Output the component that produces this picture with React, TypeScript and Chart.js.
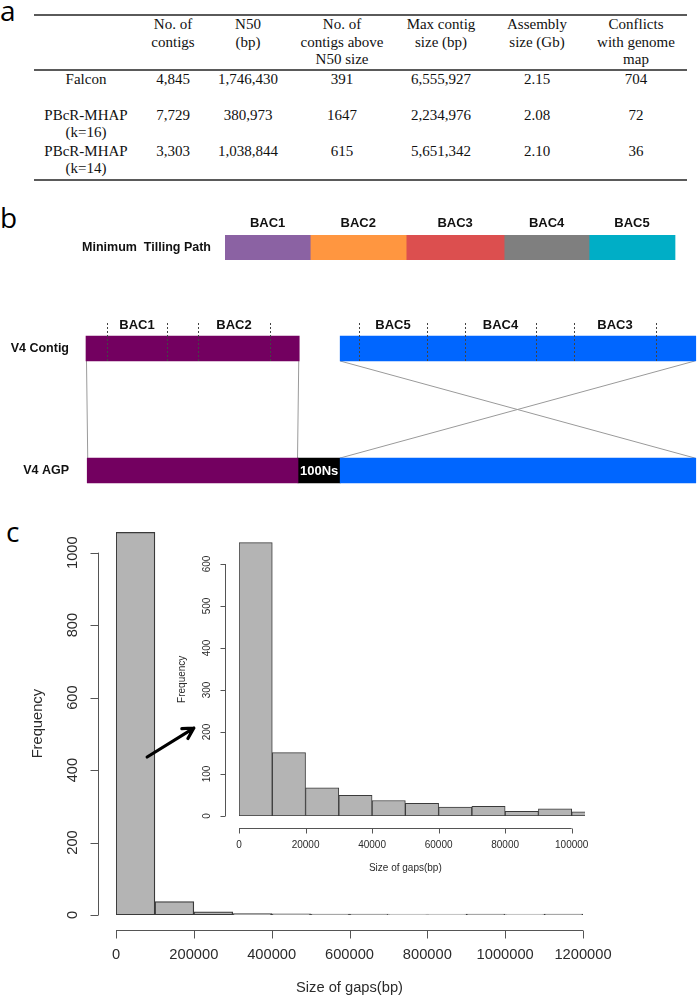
import React, { useEffect, useRef } from 'react';
import { Chart, registerables } from 'chart.js';

Chart.register(...registerables);

// ---------------- Panel a : assembly table ----------------
const tableHeaders = [
  ['No. of', 'contigs'],
  ['N50', '(bp)'],
  ['No. of', 'contigs above', 'N50 size'],
  ['Max contig', 'size (bp)'],
  ['Assembly', 'size (Gb)'],
  ['Conflicts', 'with genome', 'map'],
];
const assemblers = [['Falcon'], ['PBcR-MHAP', '(k=16)'], ['PBcR-MHAP', '(k=14)']];
const numContigs = ['4,845', '7,729', '3,303'];
const n50 = ['1,746,430', '380,973', '1,038,844'];
const contigsAboveN50 = ['391', '1647', '615'];
const maxContigSize = ['6,555,927', '2,234,976', '5,651,342'];
const assemblySize = ['2.15', '2.08', '2.10'];
const conflicts = ['704', '72', '36'];

// ---------------- Panel b : tiling path diagram ----------------
const mtpLabel = 'Minimum  Tilling Path';
const mtpBacs = ['BAC1', 'BAC2', 'BAC3', 'BAC4', 'BAC5'];
const mtpEdges = [22.7, 36.66, 52.37, 68.41, 82.32, 96.4];
const mtpColors = ['#8b62a3', '#ff9640', '#dc4f4f', '#7f7f7f', '#00aec6'];

const rowLabelsB = ['V4 Contig', 'V4 AGP'];
const contigPurpleSpan = [0, 34.9];
const contigBlueSpan = [41.6, 99.8];
const agpPurpleSpan = [0.2, 34.7];
const agpGapSpan = [34.7, 41.6];
const agpBlueSpan = [41.6, 99.8];
const gapLabel = '100Ns';
const contigBacs = ['BAC1', 'BAC2', 'BAC5', 'BAC4', 'BAC3'];
const contigBacStarts = [3.44, 18.33, 44.68, 62.03, 79.87];
const contigBacEnds = [13.26, 30.11, 55.81, 73.65, 93.29];

// ---------------- Panel c : gap size histograms ----------------
const gapBinWidth = 100000;
const gapCounts = [1056, 37, 9, 4, 3, 2, 1, 0, 0, 1, 0, 1];
const gapXTicks = [0, 200000, 400000, 600000, 800000, 1000000, 1200000];
const gapYTicks = [0, 200, 400, 600, 800, 1000];

const insetBinWidth = 10000;
const insetCounts = [651, 151, 67, 49, 37, 30, 21, 23, 11, 17, 10];
const insetXTicks = [0, 20000, 40000, 60000, 80000, 100000];
const insetYTicks = [0, 100, 200, 300, 400, 500, 600];

const arrowFrom = [80000, 436];
const arrowTo = [200000, 516];

const SANS = '"Liberation Sans", Arial, sans-serif';

type AxesOpts = {
  xTicks: number[]; yTicks: number[]; xRange: number[];
  yAxisGap: number; yTickLen: number; yLabelGap: number; yTitleGap: number;
  xAxisGap: number; xTickLen: number; xLabelGap: number; xTitleGap: number;
  font: number; xTitle: string; yTitle: string; yCenterValue: number;
};

function rAxesPlugin(o: AxesOpts) {
  return {
    id: 'rAxes',
    afterDraw(chart: any) {
      const { ctx, chartArea, scales } = chart;
      const xs = scales.x, ys = scales.y;
      const y0 = ys.getPixelForValue(0);
      const ax = Math.round(chartArea.left - o.yAxisGap) + 0.5;
      ctx.save();
      ctx.strokeStyle = '#555';
      ctx.lineWidth = 1;
      ctx.fillStyle = '#2b2b2b';
      ctx.font = `${o.font}px ${SANS}`;
      ctx.beginPath();
      ctx.moveTo(ax, ys.getPixelForValue(o.yTicks[0]));
      ctx.lineTo(ax, ys.getPixelForValue(o.yTicks[o.yTicks.length - 1]));
      o.yTicks.forEach((v) => {
        const py = Math.round(ys.getPixelForValue(v)) + 0.5;
        ctx.moveTo(ax, py);
        ctx.lineTo(ax - o.yTickLen, py);
      });
      ctx.stroke();
      ctx.textAlign = 'center';
      ctx.textBaseline = 'middle';
      o.yTicks.forEach((v) => {
        ctx.save();
        ctx.translate(ax - o.yLabelGap, ys.getPixelForValue(v));
        ctx.rotate(-Math.PI / 2);
        ctx.fillText(String(v), 0, 0);
        ctx.restore();
      });
      const ay = Math.round(y0 + o.xAxisGap) + 0.5;
      ctx.beginPath();
      ctx.moveTo(xs.getPixelForValue(o.xTicks[0]), ay);
      ctx.lineTo(xs.getPixelForValue(o.xTicks[o.xTicks.length - 1]), ay);
      o.xTicks.forEach((v) => {
        const px = Math.round(xs.getPixelForValue(v)) + 0.5;
        ctx.moveTo(px, ay);
        ctx.lineTo(px, ay + o.xTickLen);
      });
      ctx.stroke();
      o.xTicks.forEach((v) => {
        ctx.fillText(String(v), xs.getPixelForValue(v), y0 + o.xLabelGap);
      });
      const xc = (xs.getPixelForValue(o.xRange[0]) + xs.getPixelForValue(o.xRange[1])) / 2;
      ctx.fillText(o.xTitle, xc, y0 + o.xTitleGap);
      ctx.save();
      ctx.translate(ax - o.yTitleGap, ys.getPixelForValue(o.yCenterValue));
      ctx.rotate(-Math.PI / 2);
      ctx.fillText(o.yTitle, 0, 0);
      ctx.restore();
      ctx.restore();
    },
  };
}

const arrowPlugin = {
  id: 'arrow',
  afterDraw(chart: any) {
    const { ctx, scales } = chart;
    const x1 = scales.x.getPixelForValue(arrowFrom[0]);
    const y1 = scales.y.getPixelForValue(arrowFrom[1]);
    const x2 = scales.x.getPixelForValue(arrowTo[0]);
    const y2 = scales.y.getPixelForValue(arrowTo[1]);
    const ang = Math.atan2(y2 - y1, x2 - x1);
    const head = 12;
    ctx.save();
    ctx.strokeStyle = '#000';
    ctx.lineWidth = 3.2;
    ctx.lineCap = 'round';
    ctx.lineJoin = 'round';
    ctx.beginPath();
    ctx.moveTo(x1, y1);
    ctx.lineTo(x2, y2);
    ctx.moveTo(x2 - head * Math.cos(ang - 0.5), y2 - head * Math.sin(ang - 0.5));
    ctx.lineTo(x2, y2);
    ctx.lineTo(x2 - head * Math.cos(ang + 0.5), y2 - head * Math.sin(ang + 0.5));
    ctx.stroke();
    ctx.restore();
  },
};

function histConfig(counts: number[], binWidth: number, xMax: number, yMax: number, padding: any, stepSize: number, border: number, plugins: any[]) {
  return {
    type: 'bar',
    data: {
      datasets: [
        {
          data: counts.map((c, i) => ({ x: (i + 0.5) * binWidth, y: c })),
          backgroundColor: '#b4b4b4',
          borderColor: (c: any) => (c.raw && c.raw.y === 0 ? '#b0b0b0' : '#3a3a3a'),
          borderWidth: border,
          borderSkipped: false,
          minBarLength: 1,
          barPercentage: 1,
          categoryPercentage: 1,
        },
      ],
    },
    options: {
      responsive: false,
      animation: false,
      events: [],
      layout: { padding },
      plugins: { legend: { display: false }, tooltip: { enabled: false } },
      scales: {
        x: { type: 'linear', display: false, offset: false, min: 0, max: xMax, grid: { offset: false }, ticks: { stepSize, includeBounds: false } },
        y: { type: 'linear', display: false, min: 0, max: yMax },
      },
    },
    plugins,
  };
}

function rowLabelsPlugin(gap: number) {
  return {
    id: 'rowLabels',
    afterDraw(chart: any) {
      const { ctx, chartArea, scales } = chart;
      ctx.save();
      ctx.fillStyle = '#111';
      ctx.font = `bold 12.5px ${SANS}`;
      ctx.textAlign = 'right';
      ctx.textBaseline = 'middle';
      chart.data.labels.forEach((l: string, i: number) => {
        ctx.fillText(l, chartArea.left - gap, scales.y.getPixelForValue(i) + 0.5);
      });
      ctx.restore();
    },
  };
}

const mtpLabelsPlugin = {
  id: 'mtpLabels',
  afterDatasetsDraw(chart: any) {
    const { ctx } = chart;
    ctx.save();
    ctx.fillStyle = '#111';
    ctx.font = `bold 13px ${SANS}`;
    ctx.textAlign = 'center';
    ctx.textBaseline = 'middle';
    mtpBacs.forEach((b, i) => {
      const el = chart.getDatasetMeta(i).data[0];
      const cx = (el.x + el.base) / 2;
      ctx.fillText(b, cx, el.y - el.height / 2 - 12);
    });
    ctx.restore();
  },
};

function barBox(el: any) {
  return { left: Math.min(el.x, el.base), right: Math.max(el.x, el.base), top: el.y - el.height / 2, bottom: el.y + el.height / 2 };
}

const contigPlugin = {
  id: 'contigLinks',
  beforeDatasetsDraw(chart: any) {
    const { ctx } = chart;
    const purple = chart.getDatasetMeta(0).data;
    const blue = chart.getDatasetMeta(1).data;
    const cp = barBox(purple[0]), ap = barBox(purple[1]);
    const cb = barBox(blue[0]), ab = barBox(blue[1]);
    ctx.save();
    ctx.strokeStyle = '#9a9a9a';
    ctx.lineWidth = 1;
    ctx.beginPath();
    ctx.moveTo(cp.left + 0.5, cp.bottom); ctx.lineTo(ap.left + 0.5, ap.top);
    ctx.moveTo(cp.right - 0.5, cp.bottom); ctx.lineTo(ap.right - 0.5, ap.top);
    ctx.moveTo(cb.left, cb.bottom); ctx.lineTo(ab.right - 1, ab.top);
    ctx.moveTo(cb.right - 1, cb.bottom); ctx.lineTo(ab.left, ab.top);
    ctx.stroke();
    ctx.restore();
  },
  afterDatasetsDraw(chart: any) {
    const { ctx, scales } = chart;
    const cp = barBox(chart.getDatasetMeta(0).data[0]);
    ctx.save();
    ctx.strokeStyle = '#444';
    ctx.lineWidth = 1;
    ctx.setLineDash([2, 2]);
    ctx.beginPath();
    contigBacs.forEach((_, i) => {
      [contigBacStarts[i], contigBacEnds[i]].forEach((v) => {
        const px = Math.round(scales.x.getPixelForValue(v)) + 0.5;
        ctx.moveTo(px, cp.top - 13);
        ctx.lineTo(px, cp.bottom + 2);
      });
    });
    ctx.stroke();
    ctx.setLineDash([]);
    ctx.fillStyle = '#111';
    ctx.font = `bold 13px ${SANS}`;
    ctx.textAlign = 'center';
    ctx.textBaseline = 'middle';
    contigBacs.forEach((b, i) => {
      const cx = (scales.x.getPixelForValue(contigBacStarts[i]) + scales.x.getPixelForValue(contigBacEnds[i])) / 2;
      ctx.fillText(b, cx, cp.top - 11);
    });
    const gap = chart.getDatasetMeta(2).data[1];
    ctx.fillStyle = '#fff';
    ctx.fillText(gapLabel, (gap.x + gap.base) / 2, gap.y + 1);
    ctx.restore();
  },
};

const mtpConfig = {
  type: 'bar',
  data: {
    labels: [mtpLabel],
    datasets: mtpBacs.map((b, i) => ({
      label: b,
      data: [[mtpEdges[i], mtpEdges[i + 1]]],
      backgroundColor: mtpColors[i],
      borderWidth: 0,
      grouped: false,
      barPercentage: 1,
      categoryPercentage: 1,
    })),
  },
  options: {
    indexAxis: 'y',
    responsive: false,
    animation: false,
    events: [],
    layout: { padding: { top: 35, bottom: 10, left: 225, right: 0 } },
    plugins: { legend: { display: false }, tooltip: { enabled: false } },
    scales: {
      x: { type: 'linear', display: false, min: mtpEdges[0], max: 100 },
      y: { type: 'category', display: false, offset: true },
    },
  },
  plugins: [mtpLabelsPlugin, rowLabelsPlugin(14)],
};

const contigConfig = {
  type: 'bar',
  data: {
    labels: rowLabelsB,
    datasets: [
      { label: 'V4 purple', data: [contigPurpleSpan, agpPurpleSpan], backgroundColor: '#730060' },
      { label: 'V4 blue', data: [contigBlueSpan, agpBlueSpan], backgroundColor: '#0066ff' },
      { label: gapLabel, data: [null, agpGapSpan], backgroundColor: '#000000' },
    ].map((d) => ({ ...d, borderWidth: 0, grouped: false, barThickness: 25, clip: false })),
  },
  options: {
    indexAxis: 'y',
    responsive: false,
    animation: false,
    events: [],
    layout: { padding: { top: 48.5, bottom: 29.5, left: 86, right: 0 } },
    plugins: { legend: { display: false }, tooltip: { enabled: false } },
    scales: {
      x: { type: 'linear', display: false, min: 0, max: 100 },
      y: { type: 'category', display: false, offset: false },
    },
  },
  plugins: [contigPlugin, rowLabelsPlugin(17)],
};

const mainHistConfig = () =>
  histConfig(gapCounts, gapBinWidth, 1200000, 1100, { left: 116, right: 114, top: 16.4, bottom: 82 }, gapBinWidth, 1.3, [
    rAxesPlugin({
      xTicks: gapXTicks, yTicks: gapYTicks, xRange: [0, 1200000],
      yAxisGap: 18, yTickLen: 8, yLabelGap: 26, yTitleGap: 61,
      xAxisGap: 15, xTickLen: 8, xLabelGap: 40, xTitleGap: 73,
      font: 14.7, xTitle: 'Size of gaps(bp)', yTitle: 'Frequency',
      yCenterValue: Math.max(...gapCounts) / 2,
    }),
    arrowPlugin,
  ]);

const insetHistConfig = () =>
  histConfig(insetCounts, insetBinWidth, 104000, 700, { left: 79, right: 25, top: 22, bottom: 84 }, insetBinWidth, 1, [
    rAxesPlugin({
      xTicks: insetXTicks, yTicks: insetYTicks, xRange: [0, 100000],
      yAxisGap: 14, yTickLen: 5, yLabelGap: 18, yTitleGap: 43,
      xAxisGap: 12, xTickLen: 5, xLabelGap: 29, xTitleGap: 52,
      font: 10, xTitle: 'Size of gaps(bp)', yTitle: 'Frequency',
      yCenterValue: Math.max(...insetCounts) / 2,
    }),
  ]);

function ChartCanvas({ left, top, width, height, make }: { left: number; top: number; width: number; height: number; make: () => any }) {
  const ref = useRef<HTMLCanvasElement>(null);
  useEffect(() => {
    const chart = new Chart(ref.current as HTMLCanvasElement, make());
    return () => chart.destroy();
  }, []);
  return (
    <canvas
      ref={ref}
      width={width}
      height={height}
      style={{ position: 'absolute', left, top, width, height, display: 'block' }}
    />
  );
}

const SERIF = '"Liberation Serif", "Times New Roman", serif';
const colX = [86, 173, 248, 342, 441, 537, 636];

function Text({ cx, cy, children, size = 15, lh = 18 }: any) {
  return (
    <div
      style={{
        position: 'absolute', left: cx - 100, width: 200, top: cy - lh / 2, height: lh,
        lineHeight: `${lh}px`, textAlign: 'center', fontFamily: SERIF, fontSize: size,
        color: '#111', whiteSpace: 'nowrap',
      }}
    >
      {children}
    </div>
  );
}

function PanelLetter({ left, top, ch }: { left: number; top: number; ch: string }) {
  return (
    <div style={{ position: 'absolute', left, top, fontFamily: '"Open Sans", sans-serif', fontSize: 28, lineHeight: '28px', color: '#000' }}>
      {ch}
    </div>
  );
}

function Table() {
  const cols = [numContigs, n50, contigsAboveN50, maxContigSize, assemblySize, conflicts];
  const rule = (y: number, h: number) => (
    <div style={{ position: 'absolute', left: 34, width: 653, top: y - h / 2, height: h, background: '#5a5a5a' }} />
  );
  return (
    <>
      {rule(15, 2)}
      {rule(70, 1.5)}
      {rule(180, 2)}
      {tableHeaders.map((lines, c) =>
        lines.map((t, k) => (
          <Text key={`h${c}${k}`} cx={colX[c + 1]} cy={24 + k * 17.5}>{t}</Text>
        ))
      )}
      {assemblers.map((lines, r) =>
        lines.map((t, k) => (
          <Text key={`r${r}${k}`} cx={colX[0]} cy={79 + r * 36 + k * 16.5}>{t}</Text>
        ))
      )}
      {cols.map((vals, c) =>
        vals.map((v, r) => (
          <Text key={`v${c}${r}`} cx={colX[c + 1]} cy={79 + r * 36}>{v}</Text>
        ))
      )}
    </>
  );
}

export default function App() {
  return (
    <div style={{ position: 'absolute', left: 0, top: 0, width: 697, height: 997, background: '#fff', overflow: 'hidden' }}>
      <PanelLetter left={0} top={-4} ch="a" />
      <Table />
      <PanelLetter left={0} top={203} ch="b" />
      <ChartCanvas left={0} top={200} width={697} height={70} make={() => mtpConfig} />
      <ChartCanvas left={0} top={300} width={697} height={200} make={() => contigConfig} />
      <PanelLetter left={6} top={517} ch="c" />
      <ChartCanvas left={0} top={500} width={697} height={497} make={mainHistConfig} />
      <ChartCanvas left={160} top={500} width={450} height={400} make={insetHistConfig} />
    </div>
  );
}
